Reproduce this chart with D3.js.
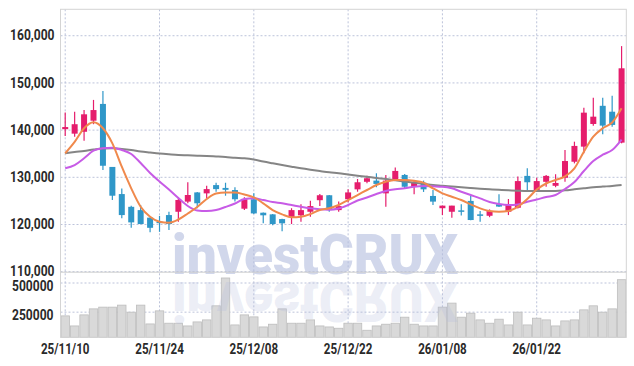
<!DOCTYPE html>
<html><head><meta charset="utf-8">
<script src="https://cdn.jsdelivr.net/npm/d3@7/dist/d3.min.js"></script>
<style>html,body{margin:0;padding:0;background:#fff;}svg{display:block;}</style>
</head><body><svg id="c" width="634" height="366"></svg>
<script>
const dates = ["25/11/10","25/11/11","25/11/12","25/11/13","25/11/14","25/11/17","25/11/18","25/11/19","25/11/20","25/11/21",
"25/11/24","25/11/25","25/11/26","25/11/27","25/11/28","25/12/01","25/12/02","25/12/03","25/12/04","25/12/05",
"25/12/08","25/12/09","25/12/10","25/12/11","25/12/12","25/12/15","25/12/16","25/12/17","25/12/18","25/12/19",
"25/12/22","25/12/23","25/12/24","25/12/26","25/12/29","25/12/30","26/01/02","26/01/05","26/01/06","26/01/07",
"26/01/08","26/01/09","26/01/12","26/01/13","26/01/14","26/01/15","26/01/16","26/01/19","26/01/20","26/01/21",
"26/01/22","26/01/23","26/01/26","26/01/27","26/01/28","26/01/29","26/01/30","26/02/02","26/02/03","26/02/04"];
const open  = [140200,139250,139650,142000,145550,132200,126450,123750,123050,121450,120600,122000,122700,124850,126800,126600,128350,127750,127300,123350,
125350,122500,122150,121150,121550,121950,122700,125150,126200,123050,125350,127450,129050,129300,126600,129450,130500,128000,128850,126050,
123450,122700,123000,125000,122150,121850,124300,122700,123550,130300,127300,129050,128200,129900,133300,136500,141300,145150,143900,137350];
const high  = [143750,143900,144250,146400,148300,132200,127650,124000,124150,121500,121800,122700,125750,128950,126900,128200,128850,128850,127900,125750,
126600,122550,122200,121200,123450,124300,125050,126450,126250,124850,127450,129650,130350,130850,130500,132100,130700,129450,129300,127300,
124000,124000,124300,126250,122850,123200,126400,125400,130150,131900,129900,130500,130650,135800,137550,144750,146850,146850,147300,157800];
const low   = [138750,138600,137750,141250,131550,125200,121300,119300,120050,118350,118450,118850,120600,124500,123450,125550,126950,126100,124850,123050,
122200,120250,119850,118550,120100,120600,121650,123900,122700,122700,124700,126950,128750,127900,123750,129300,127650,126400,126900,124150,
122000,121450,121900,120900,120600,121550,123700,122000,123400,127300,126900,128000,127900,129050,132950,135100,140900,139150,140700,137200];
const close = [140650,141250,143350,144250,132450,126100,122000,120450,120100,119300,120450,120100,125200,126250,124500,127500,127500,127350,125350,125350,
122350,121950,120100,120250,123050,123050,123900,126200,123050,123900,126800,128950,129800,128600,129300,131350,128000,128850,127450,124850,
124000,124000,122850,120950,121900,122850,123800,124150,129200,128950,129200,130300,128800,133450,136650,143700,142850,140950,141100,153100];
const ma5  = [135100,137500,140400,141650,140400,137200,132250,127670,123770,121650,120590,120380,121060,122330,123710,125400,126570,126780,126780,126360,
125760,124490,123070,122160,121530,121650,122220,123070,123430,124130,125190,126250,127310,128370,129070,129430,129430,129280,128860,127670,
126610,125890,125190,124280,123430,122860,122710,122860,123770,125400,127410,128690,129430,130210,131910,135420,138600,140380,141610,144620];
const ma20 = [131910,132600,134030,135640,136140,136270,135780,134940,133030,130910,129110,127410,125610,123920,122970,122860,123070,123710,124450,125400,
125550,125190,124770,124490,124130,123770,123430,123220,123140,123390,124130,125080,125720,126460,127100,127460,127670,128010,128160,128090,
128010,127670,126950,126250,125550,124770,124340,124130,124240,124830,125300,125830,126250,127520,129000,131330,133450,134790,135780,138010];
const ma60 = [135080,135360,135570,135890,136100,136140,136000,135780,135470,135250,135040,134870,134720,134660,134580,134510,134410,134300,134150,134030,
133770,133350,132970,132600,132250,131910,131610,131330,131060,130850,130590,130340,130110,129850,129640,129360,129110,128860,128620,128370,
128220,128050,127880,127730,127580,127460,127350,127250,127160,127100,127100,127100,127100,127250,127460,127670,127880,128030,128160,128370];
const volume = [218100,131900,226700,278400,293100,293100,310300,250000,310300,149100,261200,155200,155200,131900,166400,183600,304300,543100,140500,226700,
209500,123300,146600,278400,155200,155200,183600,131900,123300,112100,155200,155200,94800,131900,146600,155200,206900,146600,131900,131900,
293100,327600,206900,241400,183600,155200,189700,140500,250000,140500,198300,183600,131900,175000,183600,269800,304300,250000,278400,528400];
const priceTicks = [110000,120000,130000,140000,150000,160000];
const volTicks = [250000,500000];
const dateTicks = ["25/11/10","25/11/24","25/12/08","25/12/22","26/01/08","26/01/22"];

const svg = d3.select("#c");
const L = 60.5, R = 626.3, T = 9.3, PB = 271.7, VB = 337.3;
const x = d3.scaleBand().domain(dates).range([L, R]).padding(0);
const cx = d => x(d) + x.bandwidth() / 2;
const yP = d3.scaleLinear().domain([110000, 165600]).range([PB, T]);
const yV = d3.scaleLinear().domain([34500, 597000]).range([VB, PB]);
const UP = "#e51d6c", DOWN = "#2f97c8";
const GRID = "#bcc3da";
const FONT = "Roboto, 'Liberation Sans', sans-serif";

// grid
const g = svg.append("g");
g.selectAll(".hg").data(priceTicks).join("line")
  .attr("x1", L).attr("x2", R).attr("y1", d => yP(d)).attr("y2", d => yP(d))
  .attr("stroke", GRID).attr("stroke-dasharray", "2,2");
g.selectAll(".vg").data(volTicks).join("line")
  .attr("x1", L).attr("x2", R).attr("y1", d => yV(d)).attr("y2", d => yV(d))
  .attr("stroke", GRID).attr("stroke-dasharray", "2,2");
g.selectAll(".xg").data(dateTicks).join("line")
  .attr("x1", d => cx(d)).attr("x2", d => cx(d)).attr("y1", T).attr("y2", VB)
  .attr("stroke", GRID).attr("stroke-dasharray", "2,2");

// watermark
const wm = svg.append("g");
wm.append("text").text("investCRUX")
  .attr("x", 172).attr("y", 274)
  .attr("font-family", FONT).attr("font-weight", 900).attr("font-size", 56)
  .attr("textLength", 286).attr("lengthAdjust", "spacingAndGlyphs")
  .attr("fill", "#b3bcdd").attr("fill-opacity", 0.6);

// volume bars
svg.append("g").selectAll("rect").data(volume).join("rect")
  .attr("x", (d, i) => x(dates[i]) + 0.5)
  .attr("width", x.bandwidth() - 1)
  .attr("y", d => yV(d)).attr("height", d => VB - yV(d))
  .attr("fill", "#d9d9d9").attr("stroke", "#bdbdbd").attr("stroke-width", 0.8);

// reflection
wm.clone(true).raise()
  .attr("transform", `translate(0,${2 * 278}) scale(1,-1)`)
  .select("text").attr("fill-opacity", 0.26);

// frame
svg.append("rect").attr("x", L).attr("y", T).attr("width", R - L).attr("height", VB - T)
  .attr("fill", "none").attr("stroke", "#d4d4d4");
svg.append("line").attr("x1", L).attr("x2", R).attr("y1", PB + 0.5).attr("y2", PB + 0.5)
  .attr("stroke", "#cfcfcf");

// candles
const cg = svg.append("g");
dates.forEach((d, i) => {
  const up = close[i] >= open[i];
  const col = up ? UP : DOWN;
  cg.append("line").attr("x1", cx(d)).attr("x2", cx(d))
    .attr("y1", yP(high[i])).attr("y2", yP(low[i]))
    .attr("stroke", col).attr("stroke-width", 1.2);
  const top = yP(Math.max(open[i], close[i]));
  const bot = yP(Math.min(open[i], close[i]));
  cg.append("rect").attr("x", cx(d) - 3).attr("width", 6)
    .attr("y", top).attr("height", Math.max(1.5, bot - top)).attr("fill", col);
});

// moving averages
const line = d3.line().x((v, i) => cx(dates[i])).y(v => yP(v)).curve(d3.curveMonotoneX);
[[ma60, "#858585"], [ma20, "#c75be6"], [ma5, "#f0894c"]].forEach(([s, c]) => {
  svg.append("path").attr("d", line(s)).attr("fill", "none")
    .attr("stroke", c).attr("stroke-width", 2);
});

// axes
function styleAxis(sel, target, size) {
  sel.select(".domain").remove();
  sel.selectAll("text").attr("font-family", FONT).attr("font-weight", 700)
    .attr("font-size", size).attr("fill", "#2a2a2a");
  sel.selectAll("text").each(function () {
    const w = this.getComputedTextLength();
    d3.select(this).attr("textLength", w * target).attr("lengthAdjust", "spacingAndGlyphs");
  });
}
const ay = svg.append("g").attr("transform", `translate(${L},0)`)
  .call(d3.axisLeft(yP).tickValues(priceTicks).tickFormat(d3.format(",")).tickSize(0).tickPadding(6));
styleAxis(ay, 0.86, 14);
ay.selectAll("text").attr("dy", "0.3em");
const av = svg.append("g").attr("transform", `translate(${L},0)`)
  .call(d3.axisLeft(yV).tickValues(volTicks).tickFormat(d3.format("d")).tickSize(0).tickPadding(7));
styleAxis(av, 0.86, 14);
av.selectAll("text").attr("dy", "0.5em");
const ax = svg.append("g").attr("transform", `translate(0,${VB})`)
  .call(d3.axisBottom(x).tickValues(dateTicks).tickSize(0).tickPadding(6));
styleAxis(ax, 0.8, 14.5);
</script></body></html>
